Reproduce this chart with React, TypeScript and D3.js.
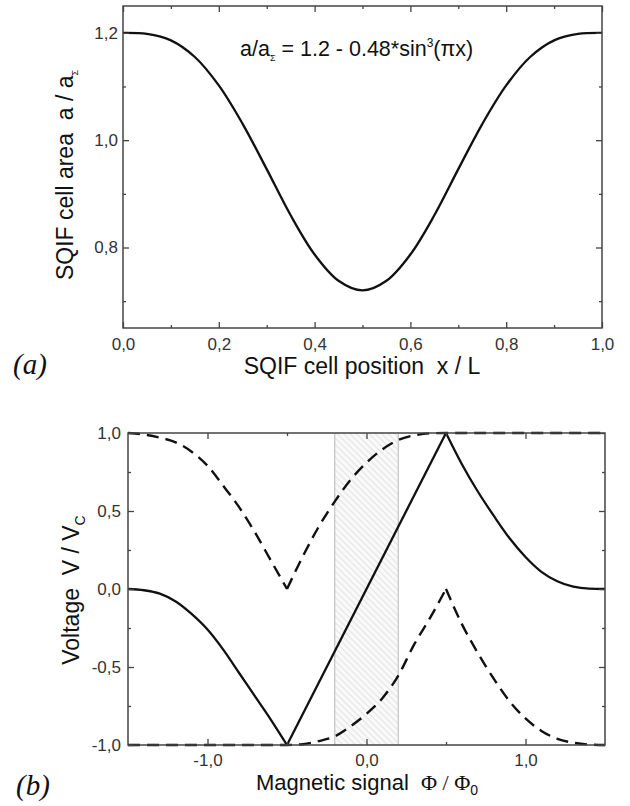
import React, { useEffect, useRef } from "react";
import * as d3 from "d3";

const WIDTH = 630;
const HEIGHT = 806;

// (a) SQIF cell area along the array, a/aΣ vs x/L
const cellPos = [0, 0.05, 0.1, 0.15, 0.2, 0.25, 0.3, 0.35, 0.4, 0.45, 0.5, 0.55, 0.6, 0.65, 0.7, 0.75, 0.8, 0.85, 0.9, 0.95, 1.0];
const cellArea = [1.2, 1.198, 1.186, 1.155, 1.102, 1.03, 0.946, 0.86, 0.787, 0.738, 0.72, 0.738, 0.787, 0.86, 0.946, 1.03, 1.102, 1.155, 1.186, 1.198, 1.2];

// (b) voltage response vs magnetic signal, split at the cusps
const phiLeft = [-1.5, -1.4, -1.3, -1.2, -1.1, -1.0, -0.9, -0.8, -0.7, -0.6, -0.5];
const phiRight = [0.5, 0.6, 0.7, 0.8, 0.9, 1.0, 1.1, 1.2, 1.3, 1.4, 1.5];
const phiMid = [-0.5, 0.5];
const phiUpperRight = [-0.5, -0.4, -0.3, -0.2, -0.1, 0.0, 0.1, 0.2, 0.3, 0.4, 0.5, 0.6, 0.7, 0.8, 0.9, 1.0, 1.1, 1.2, 1.3, 1.4, 1.5];
const phiLowerLeft = [-1.5, -1.4, -1.3, -1.2, -1.1, -1.0, -0.9, -0.8, -0.7, -0.6, -0.5, -0.4, -0.3, -0.2, -0.1, 0.0, 0.1, 0.2, 0.3, 0.4, 0.5];

const solidLeft = [0, -0.008, -0.03, -0.08, -0.16, -0.26, -0.39, -0.54, -0.69, -0.84, -1.0];
const solidMid = [-1.0, 1.0];
const solidRight = [1.0, 0.8, 0.625, 0.47, 0.325, 0.205, 0.11, 0.05, 0.015, 0.002, 0];

const upperLeft = [1.0, 0.99, 0.97, 0.94, 0.88, 0.79, 0.66, 0.523, 0.36, 0.18, 0.0];
const upperRight = [0.0, 0.21, 0.4, 0.56, 0.7, 0.81, 0.895, 0.955, 0.985, 0.998, 1.0, 1.0, 1.0, 1.0, 1.0, 1.0, 1.0, 1.0, 1.0, 1.0, 1.0];

const lowerLeft = [-1.0, -1.0, -1.0, -1.0, -1.0, -1.0, -1.0, -1.0, -1.0, -1.0, -1.0, -0.995, -0.975, -0.945, -0.88, -0.8, -0.7, -0.555, -0.355, -0.185, 0.0];
const lowerRight = [0.0, -0.225, -0.41, -0.575, -0.72, -0.83, -0.91, -0.96, -0.985, -0.997, -1.0];

const hatchBand = [-0.2, 0.2];

const FONT = "'Liberation Sans', Arial, Helvetica, sans-serif";
const SERIF = "'Liberation Serif', 'Times New Roman', serif";

type Sel = d3.Selection<SVGGElement, unknown, null, undefined>;

const fmt = (d: d3.NumberValue) => (+d).toFixed(1).replace(".", ",");

// box with inward ticks on all four sides, labels only bottom/left
function drawFrame(
  g: Sel,
  x: d3.ScaleLinear<number, number>,
  y: d3.ScaleLinear<number, number>,
  o: { xMajor: number[]; xMinor: number[]; yMajor: number[]; yMinor: number[]; xPad: number; yPad: number }
) {
  const [x0, x1] = x.range();
  const [y0, y1] = y.range();
  const none = () => "";

  const axes: [any, string][] = [
    [d3.axisBottom(x).tickValues(o.xMajor).tickSize(-6).tickPadding(o.xPad).tickFormat(fmt), `translate(0,${y0})`],
    [d3.axisBottom(x).tickValues(o.xMinor).tickSize(-3).tickFormat(none), `translate(0,${y0})`],
    [d3.axisTop(x).tickValues(o.xMajor).tickSize(-6).tickFormat(none), `translate(0,${y1})`],
    [d3.axisTop(x).tickValues(o.xMinor).tickSize(-3).tickFormat(none), `translate(0,${y1})`],
    [d3.axisLeft(y).tickValues(o.yMajor).tickSize(-6).tickPadding(o.yPad).tickFormat(fmt), `translate(${x0},0)`],
    [d3.axisLeft(y).tickValues(o.yMinor).tickSize(-3).tickFormat(none), `translate(${x0},0)`],
    [d3.axisRight(y).tickValues(o.yMajor).tickSize(-6).tickFormat(none), `translate(${x1},0)`],
    [d3.axisRight(y).tickValues(o.yMinor).tickSize(-3).tickFormat(none), `translate(${x1},0)`],
  ];

  axes.forEach(([axis, tr]) => {
    const a = g.append("g").attr("transform", tr).call(axis);
    a.select(".domain").remove();
    a.selectAll("line").attr("stroke", "#444").attr("stroke-width", 1.3);
    a.attr("font-family", FONT).attr("font-size", 17);
    a.selectAll("text").attr("fill", "#333");
  });

  g.append("rect")
    .attr("x", x0)
    .attr("y", y1)
    .attr("width", x1 - x0)
    .attr("height", y0 - y1)
    .attr("fill", "none")
    .attr("stroke", "#444")
    .attr("stroke-width", 1.5);
}

function App() {
  const svgRef = useRef<SVGSVGElement | null>(null);

  useEffect(() => {
    const svg = d3.select(svgRef.current);
    svg.selectAll("*").remove();

    // ---------- panel (a) ----------
    const xa = d3.scaleLinear().domain([0, 1]).range([123, 602]);
    const ya = d3.scaleLinear().domain([0.65, 1.25]).range([328, 6]);
    const ga = svg.append("g") as unknown as Sel;

    const areaLine = d3
      .line<number>()
      .x((_, i) => xa(cellPos[i]))
      .y((d) => ya(d))
      .curve(d3.curveCatmullRom);

    ga.append("path")
      .attr("d", areaLine(cellArea))
      .attr("fill", "none")
      .attr("stroke", "#111")
      .attr("stroke-width", 2.3);

    drawFrame(ga, xa, ya, {
      xMajor: [0, 0.2, 0.4, 0.6, 0.8, 1.0],
      xMinor: [0.1, 0.3, 0.5, 0.7, 0.9],
      yMajor: [0.8, 1.0, 1.2],
      yMinor: [0.7, 0.9, 1.1],
      xPad: 10,
      yPad: 5,
    });

    const formula = ga
      .append("text")
      .attr("x", 240)
      .attr("y", 56)
      .attr("font-family", FONT)
      .attr("font-size", 21.5)
      .attr("fill", "#111");
    formula.append("tspan").text("a/a");
    formula.append("tspan").attr("font-size", 9).attr("dy", 5).text("Σ");
    formula.append("tspan").attr("dy", -5).style("white-space", "pre").text(" = 1.2 - 0.48*sin");
    formula.append("tspan").attr("font-size", 12).attr("dy", -9).text("3");
    formula.append("tspan").attr("dy", 9).text("(πx)");

    ga.append("text")
      .attr("x", 362)
      .attr("y", 374)
      .attr("text-anchor", "middle")
      .attr("font-family", FONT)
      .attr("font-size", 23)
      .attr("fill", "#111")
      .style("white-space", "pre")
      .text("SQIF cell position  x / L");

    const yTitleA = ga
      .append("text")
      .attr("transform", "translate(73,175) rotate(-90)")
      .attr("text-anchor", "middle")
      .attr("font-family", FONT)
      .attr("font-size", 23)
      .attr("fill", "#111")
      .style("white-space", "pre");
    yTitleA.append("tspan").text("SQIF cell area  a / a");
    yTitleA.append("tspan").attr("font-size", 9).attr("dy", 5).text("Σ");

    ga.append("text")
      .attr("x", 13)
      .attr("y", 374)
      .attr("font-family", SERIF)
      .attr("font-style", "italic")
      .attr("font-size", 29)
      .attr("fill", "#111")
      .text("(a)");

    // ---------- panel (b) ----------
    const xb = d3.scaleLinear().domain([-1.5, 1.5]).range([128, 605]);
    const yb = d3.scaleLinear().domain([-1, 1]).range([745, 433]);
    const gb = svg.append("g") as unknown as Sel;

    const defs = svg.append("defs");
    const pat = defs
      .append("pattern")
      .attr("id", "hatch")
      .attr("patternUnits", "userSpaceOnUse")
      .attr("width", 4.5)
      .attr("height", 4.5)
      .attr("patternTransform", "rotate(45)");
    pat.append("rect").attr("width", 4.5).attr("height", 4.5).attr("fill", "#fafafa");
    pat.append("rect").attr("width", 4.5).attr("height", 1.3).attr("fill", "#e6e6e6");

    gb.append("rect")
      .attr("x", xb(hatchBand[0]))
      .attr("y", yb(1))
      .attr("width", xb(hatchBand[1]) - xb(hatchBand[0]))
      .attr("height", yb(-1) - yb(1))
      .attr("fill", "url(#hatch)");
    gb.selectAll("line.band")
      .data(hatchBand)
      .join("line")
      .attr("class", "band")
      .attr("x1", (d) => xb(d))
      .attr("x2", (d) => xb(d))
      .attr("y1", yb(1))
      .attr("y2", yb(-1))
      .attr("stroke", "#c4c4c4")
      .attr("stroke-width", 1.2);

    const seg = (xs: number[]) =>
      d3
        .line<number>()
        .x((_, i) => xb(xs[i]))
        .y((d) => yb(d))
        .curve(d3.curveMonotoneX);

    const solid: [number[], number[]][] = [
      [phiLeft, solidLeft],
      [phiMid, solidMid],
      [phiRight, solidRight],
    ];
    const dashed: [number[], number[]][] = [
      [phiLeft, upperLeft],
      [phiUpperRight, upperRight],
      [phiLowerLeft, lowerLeft],
      [phiRight, lowerRight],
    ];

    dashed.forEach(([xs, vs]) => {
      gb.append("path")
        .attr("d", seg(xs)(vs))
        .attr("fill", "none")
        .attr("stroke", "#111")
        .attr("stroke-width", 2.4)
        .attr("stroke-dasharray", "12,7");
    });
    solid.forEach(([xs, vs]) => {
      gb.append("path")
        .attr("d", seg(xs)(vs))
        .attr("fill", "none")
        .attr("stroke", "#111")
        .attr("stroke-width", 2.3)
        .attr("stroke-linejoin", "miter");
    });

    drawFrame(gb, xb, yb, {
      xMajor: [-1, 0, 1],
      xMinor: [-0.5, 0.5],
      yMajor: [-1, -0.5, 0, 0.5, 1],
      yMinor: [-0.75, -0.25, 0.25, 0.75],
      xPad: 9,
      yPad: 7,
    });

    const xTitleB = gb
      .append("text")
      .attr("x", 367)
      .attr("y", 790)
      .attr("text-anchor", "middle")
      .attr("font-family", FONT)
      .attr("font-size", 22)
      .attr("fill", "#111")
      .style("white-space", "pre");
    xTitleB.append("tspan").text("Magnetic signal  ");
    xTitleB.append("tspan").attr("font-family", SERIF).text("Φ / Φ");
    xTitleB.append("tspan").attr("font-size", 14).attr("dy", 5).text("0");

    const yTitleB = gb
      .append("text")
      .attr("transform", "translate(79,590) rotate(-90)")
      .attr("text-anchor", "middle")
      .attr("font-family", FONT)
      .attr("font-size", 23)
      .attr("fill", "#111")
      .style("white-space", "pre");
    yTitleB.append("tspan").text("Voltage  V / V");
    yTitleB.append("tspan").attr("font-size", 14).attr("dy", 6).text("C");

    gb.append("text")
      .attr("x", 16)
      .attr("y", 795)
      .attr("font-family", SERIF)
      .attr("font-style", "italic")
      .attr("font-size", 29)
      .attr("fill", "#111")
      .text("(b)");
  }, []);

  return (
    <div style={{ position: "absolute", left: 0, top: 0 }}>
      <svg ref={svgRef} width={WIDTH} height={HEIGHT} style={{ display: "block", background: "#fff" }} />
    </div>
  );
}

export default App;
